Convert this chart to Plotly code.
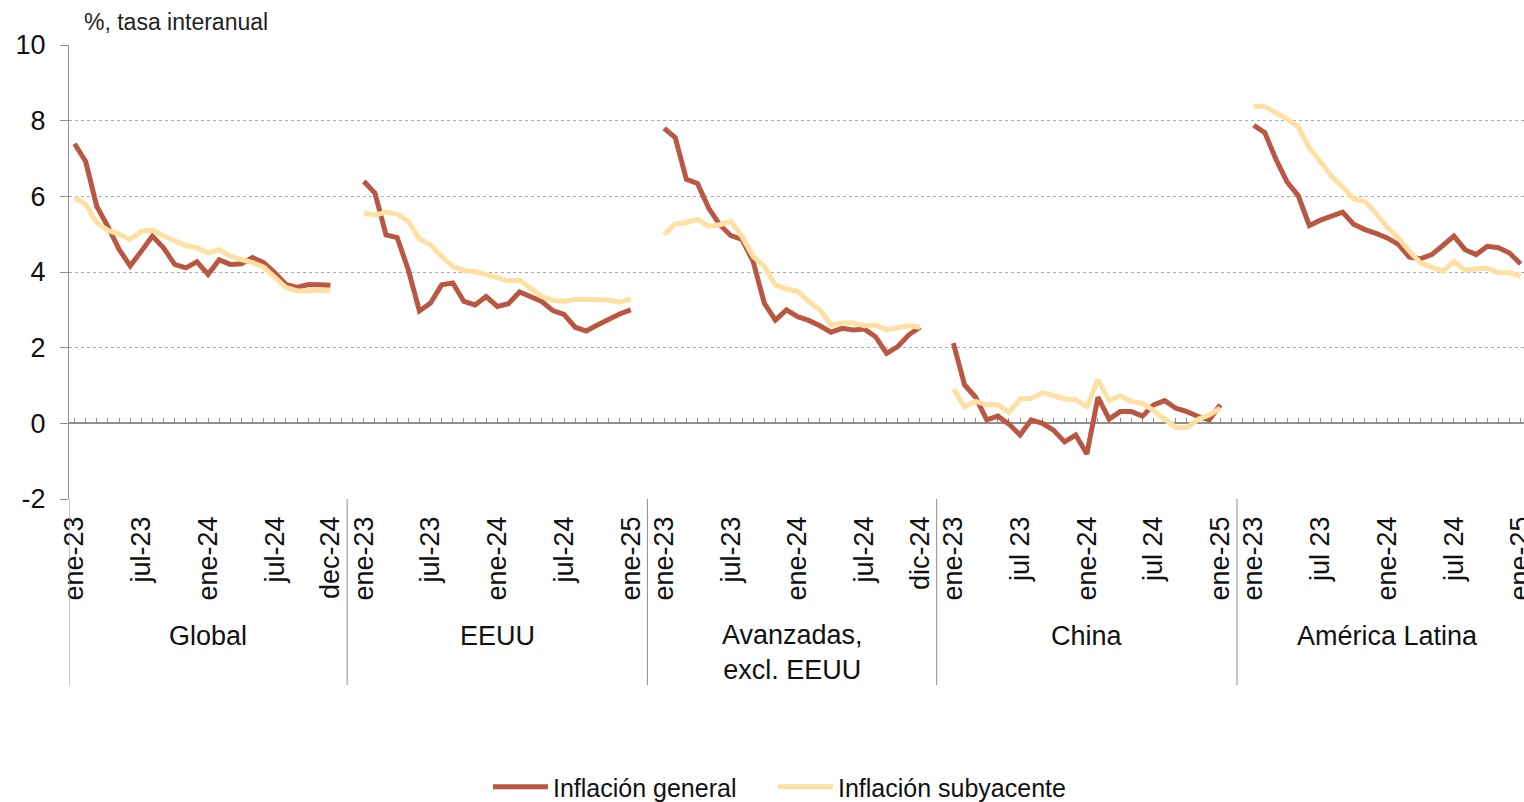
import plotly.graph_objects as go

# ---------------- data ----------------
groups = ["Global", "EEUU", "Avanzadas,<br>excl. EEUU", "China", "América Latina"]

global_gen = [7.39, 6.92, 5.73, 5.2, 4.6, 4.16, 4.55, 4.95, 4.64, 4.2, 4.11, 4.27,
              3.94, 4.32, 4.2, 4.22, 4.38, 4.25, 3.98, 3.67, 3.59, 3.67, 3.66, 3.65]
global_sub = [5.96, 5.79, 5.3, 5.1, 5.0, 4.86, 5.08, 5.11, 4.95, 4.82, 4.7, 4.64,
              4.5, 4.59, 4.42, 4.33, 4.25, 4.13, 3.85, 3.59, 3.5, 3.5, 3.52, 3.52]

eeuu_gen = [6.4, 6.09, 4.98, 4.91, 4.06, 2.97, 3.18, 3.66, 3.71, 3.22, 3.13, 3.35,
            3.09, 3.16, 3.47, 3.35, 3.22, 2.98, 2.88, 2.54, 2.44, 2.6, 2.75, 2.89, 3.0]
eeuu_sub = [5.56, 5.51, 5.58, 5.53, 5.34, 4.87, 4.72, 4.41, 4.15, 4.04, 4.01, 3.93,
            3.86, 3.77, 3.79, 3.57, 3.35, 3.25, 3.22, 3.28, 3.28, 3.28, 3.26, 3.2, 3.29]

av_gen = [7.8, 7.55, 6.45, 6.34, 5.69, 5.25, 4.96, 4.86, 4.28, 3.18, 2.73, 3.0,
          2.82, 2.72, 2.58, 2.41, 2.51, 2.47, 2.49, 2.29, 1.85, 2.03, 2.34, 2.54]
av_sub = [4.99, 5.27, 5.31, 5.39, 5.21, 5.25, 5.34, 4.94, 4.41, 4.15, 3.66, 3.55,
          3.49, 3.22, 3.0, 2.6, 2.65, 2.65, 2.58, 2.6, 2.47, 2.53, 2.58, 2.54]

china_gen = [2.12, 1.02, 0.69, 0.09, 0.19, -0.02, -0.31, 0.09, 0.0, -0.18, -0.49, -0.31,
             -0.81, 0.69, 0.11, 0.31, 0.31, 0.19, 0.49, 0.6, 0.4, 0.31, 0.18, 0.09, 0.49]
china_sub = [0.91, 0.44, 0.58, 0.49, 0.49, 0.29, 0.64, 0.66, 0.81, 0.73, 0.65, 0.62,
             0.44, 1.15, 0.6, 0.73, 0.58, 0.53, 0.34, 0.11, -0.11, -0.11, 0.11, 0.22, 0.4]

latam_gen = [7.88, 7.68, 6.98, 6.38, 6.02, 5.23, 5.37, 5.48, 5.58, 5.26, 5.12, 5.02,
             4.9, 4.73, 4.39, 4.35, 4.46, 4.7, 4.95, 4.59, 4.46, 4.68, 4.64, 4.5, 4.21]
latam_sub = [8.39, 8.37, 8.21, 8.05, 7.84, 7.28, 6.91, 6.53, 6.25, 5.93, 5.86, 5.55,
             5.19, 4.9, 4.55, 4.24, 4.13, 4.02, 4.28, 4.05, 4.08, 4.1, 3.98, 3.98, 3.89]

global_ticks = ["ene-23", "jul-23", "ene-24", "jul-24", "dec-24"]
eeuu_ticks = ["ene-23", "jul-23", "ene-24", "jul-24", "ene-25"]
av_ticks = ["ene-23", "jul-23", "ene-24", "jul-24", "dic-24"]
china_ticks = ["ene-23", "jul 23", "ene-24", "jul 24", "ene-25"]
latam_ticks = ["ene-23", "jul 23", "ene-24", "jul 24", "ene-25"]

y_tickvals = [-2, 0, 2, 4, 6, 8, 10]
y_ticktext = ["-2", "0", "2", "4", "6", "8", "10"]

general = [global_gen, eeuu_gen, av_gen, china_gen, latam_gen]
subyacente = [global_sub, eeuu_sub, av_sub, china_sub, latam_sub]
tick_labels = [global_ticks, eeuu_ticks, av_ticks, china_ticks, latam_ticks]

# ---------------- layout helpers ----------------
RED = "#BA5742"
YEL = "#FEE0A3"
GRAY = "#8F8F8F"
FONT = "Liberation Sans, Arial, Helvetica, sans-serif"

PLOT_TOP, PLOT_BOT = 45, 499
def py(p):
    return (PLOT_BOT - p) / (PLOT_BOT - PLOT_TOP)

def px(p):
    return (p - 69) / 1455

# category positions: first group no leading blank, others one; each one trailing blank
x_gen, y_gen, x_sub, y_sub = [], [], [], []
tickvals, ticktext = [], []
bounds = []
centers = []
pos = 0
for gi in range(len(groups)):
    lead = 0 if gi == 0 else 1
    n = len(general[gi])
    start = pos + lead
    xs = [start + k for k in range(n)]
    x_gen += xs + [None]
    y_gen += general[gi] + [None]
    x_sub += xs + [None]
    y_sub += subyacente[gi] + [None]
    offs = [0, 6, 12, 18, n - 1]
    for o, t in zip(offs, tick_labels[gi]):
        tickvals.append(start + o)
        ticktext.append(t)
    size = lead + n + 1
    lo = pos - 0.5
    hi = pos + size - 0.5
    bounds.append(lo)
    centers.append((lo + hi) / 2)
    pos += size

x_right = -0.5 + (1524 - 69) / 11.124

fig = go.Figure()
fig.add_trace(go.Scatter(x=x_gen, y=y_gen, mode="lines", name="Inflación general",
                         line=dict(color=RED, width=5), connectgaps=False,
                         xaxis="x", yaxis="y", legend="legend"))
fig.add_trace(go.Scatter(x=x_sub, y=y_sub, mode="lines", name="Inflación subyacente",
                         line=dict(color=YEL, width=5), connectgaps=False,
                         xaxis="x2", yaxis="y", legend="legend2"))

shapes = []
for b in bounds:
    shapes.append(dict(type="line", xref="x", yref="paper", x0=b, x1=b,
                       y0=0, y1=py(685), line=dict(color=GRAY, width=1)))

annotations = []
for c, g in zip(centers, groups):
    annotations.append(dict(x=c, xref="x", y=py(636) if "<br>" not in g else py(652),
                            yref="paper", text=g, showarrow=False,
                            font=dict(size=27, color="#111111", family=FONT),
                            xanchor="center", yanchor="middle"))
annotations.append(dict(x=px(82), xref="paper", y=py(22), yref="paper",
                        text="%, tasa interanual", showarrow=False,
                        xanchor="left", yanchor="middle",
                        font=dict(size=23, color="#222222", family=FONT)))

legend_common = dict(orientation="h", xanchor="left", yanchor="middle",
                     font=dict(size=25, color="#111111", family=FONT),
                     itemwidth=55, bgcolor="rgba(0,0,0,0)")

fig.update_layout(
    width=1524, height=802,
    margin=dict(l=69, r=0, t=PLOT_TOP, b=802 - PLOT_BOT, pad=0, autoexpand=False),
    paper_bgcolor="white", plot_bgcolor="white",
    font=dict(family=FONT, size=25, color="#111111"),
    showlegend=True,
    legend=dict(x=px(488), y=py(787), **legend_common),
    legend2=dict(x=px(773), y=py(787), **legend_common),
    xaxis=dict(range=[-0.5, x_right], showgrid=False, zeroline=False, showline=False,
               tickmode="array", tickvals=tickvals, ticktext=ticktext,
               tickangle=-90, ticks="", ticklabelstandoff=11,
               ticklabeloverflow="allow", automargin=False,
               tickfont=dict(size=27, color="#111111", family=FONT)),
    xaxis2=dict(range=[-0.5, x_right], overlaying="x", anchor="free",
                position=2 / 12, side="bottom", showgrid=False, zeroline=False,
                showline=True, linecolor=GRAY, linewidth=1.5,
                tickmode="linear", tick0=0, dtick=1, ticks="inside", ticklen=5,
                tickcolor=GRAY, tickwidth=1, showticklabels=False,
                layer="below traces", automargin=False),
    yaxis=dict(range=[-2, 10], tickmode="array", tickvals=y_tickvals,
               ticktext=y_ticktext, showgrid=True, gridcolor="#ABABAB",
               griddash="dot", gridwidth=1, zeroline=False, showline=True,
               linecolor=GRAY, linewidth=1, ticks="outside", ticklen=8,
               tickcolor=GRAY, ticklabelstandoff=9, automargin=False,
               tickfont=dict(size=27, color="#111111", family=FONT)),
    shapes=shapes,
    annotations=annotations,
)

fig.write_html("out.html")
